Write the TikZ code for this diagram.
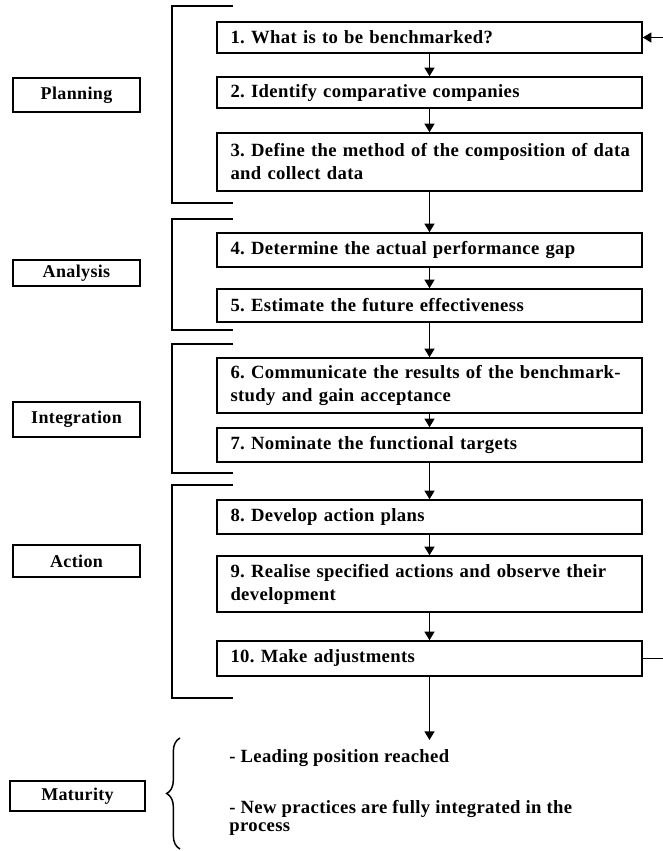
\documentclass[tikz,border=0pt]{standalone}
\usepackage{fontspec}
\setmainfont{Liberation Serif}
\newfontfamily\wideserif[LetterSpace=2]{Liberation Serif}
\usetikzlibrary{arrows.meta,decorations.pathreplacing}
\frenchspacing
\hfuzz=50pt
\begin{document}
\begin{tikzpicture}[x=0.75pt,y=-0.75pt,
  stepbox/.style={draw,line width=1.1pt,minimum width=318.75pt,text width=298.5pt,
    inner xsep=10.125pt,inner ysep=0pt,align=left,
    font=\wideserif\bfseries\fontsize{14}{17.25}\selectfont},
  phasebox/.style={draw,line width=1pt,minimum width=95.25pt,inner sep=0pt,
    font=\wideserif\bfseries\fontsize{13.5}{16}\selectfont},
  flow/.style={line width=1.1pt,-{Triangle[width=7.5pt,length=6.5pt]}},
  bracketline/.style={line width=1.2pt},
  plain/.style={line width=1.1pt},
  mattext/.style={inner sep=0pt,align=left,font=\wideserif\bfseries\fontsize{14}{13.5}\selectfont}]
\fill[white] (0,0) rectangle (663,851);
\useasboundingbox (0,0) rectangle (663,851);

% process steps
\node[stepbox,minimum height=23.25pt] (s1) at (429.5,37.5) {1. What is to be benchmarked?};
\node[stepbox,minimum height=23.25pt] (s2) at (429.5,92.5) {2. Identify comparative companies};
\node[stepbox,minimum height=43.5pt] (s3) at (429.5,162) {\mbox{3. Define the method of the composition of data}\\and collect data};
\node[stepbox,minimum height=25.5pt] (s4) at (429.5,250) {4. Determine the actual performance gap};
\node[stepbox,minimum height=24.75pt] (s5) at (429.5,305.5) {5. Estimate the future effectiveness};
\node[stepbox,minimum height=41.25pt] (s6) at (429.5,385.5) {\mbox{6. Communicate the results of the benchmark-}\\study and gain acceptance};
\node[stepbox,minimum height=25.5pt] (s7) at (429.5,445) {7. Nominate the functional targets};
\node[stepbox,minimum height=25.5pt] (s8) at (429.5,517) {8. Develop action plans};
\node[stepbox,minimum height=42pt] (s9) at (429.5,584) {\mbox{9. Realise specified actions and observe their}\\development};
\node[stepbox,minimum height=26.25pt] (s10) at (429.5,658.5) {10. Make adjustments};

% phase labels
\node[phasebox,minimum height=25.5pt] (planning) at (76.5,95) {Planning};
\node[phasebox,minimum height=19.5pt] (analysis) at (76.5,273) {Analysis};
\node[phasebox,minimum height=26.25pt] (integration) at (76.5,419.5) {Integration};
\node[phasebox,minimum height=24pt] (action) at (76.5,561) {Action};
\node[phasebox,minimum height=22.5pt,minimum width=101.25pt] (maturity) at (77.5,796) {Maturity};

% brackets
\draw[bracketline] (233,6) -- (172,6) -- (172,203) -- (233,203);
\draw[bracketline] (233,219) -- (172,219) -- (172,330) -- (233,330);
\draw[bracketline] (233,344) -- (172,344) -- (172,473) -- (233,473);
\draw[bracketline] (233,485) -- (172,485) -- (172,698) -- (233,698);

% flow arrows
\draw[flow] (s1) -- (s2);
\draw[flow] (s2) -- (s3);
\draw[flow] (s3) -- (s4);
\draw[flow] (s4) -- (s5);
\draw[flow] (s5) -- (s6);
\draw[flow] (s6) -- (s7);
\draw[flow] (s7) -- (s8);
\draw[flow] (s8) -- (s9);
\draw[flow] (s9) -- (s10);
\coordinate (out) at (429.5,740);
\draw[flow] (s10) -- (out);

% feedback stubs
\coordinate (fbA) at (663,658.5);
\coordinate (fbB) at (663,37.5);
\draw[plain] (s10.east) -- (fbA);
\draw[flow] (fbB) -- (s1.east);

% maturity
\draw[line width=1.1pt,decorate,decoration={brace,amplitude=10pt}] (180,849) -- (180,738);
\node[mattext,anchor=base west] (m1) at (229,762) {- Leading position reached};
\node[mattext,anchor=base west] (m2) at (229,831) {- New practices are fully integrated in the\\process};
\end{tikzpicture}
\end{document}
